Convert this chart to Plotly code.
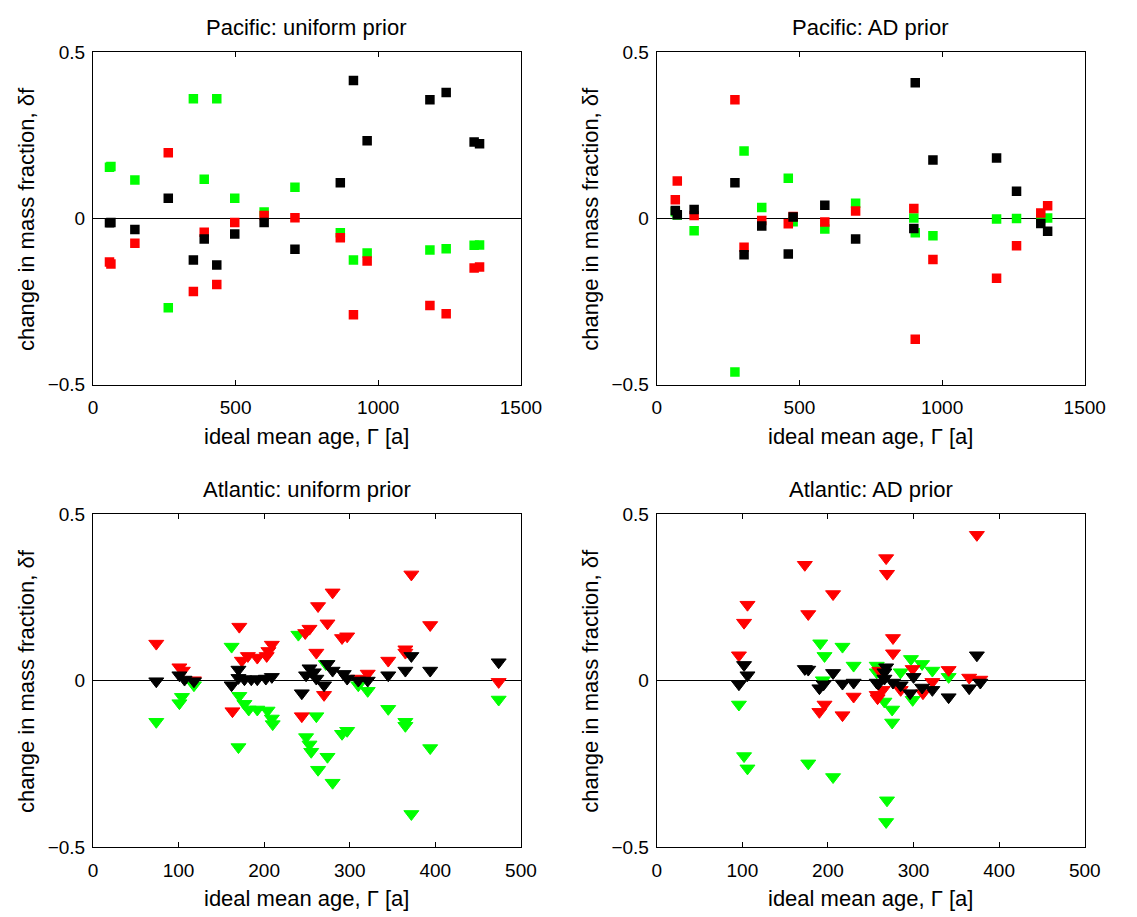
import plotly.graph_objects as go

# ---------------- data ----------------
# Pacific, uniform prior (squares)
pac_uni_x = [58, 63, 147, 264, 352, 390, 434, 497, 600, 708, 867, 913, 961, 1181, 1238, 1336, 1355]
pac_uni_green = [0.154, 0.156, 0.116, -0.269, 0.360, 0.118, 0.360, 0.061, 0.019, 0.094, -0.043, -0.125, -0.104, -0.095, -0.091, -0.081, -0.080]
pac_uni_red = [-0.131, -0.137, -0.075, 0.198, -0.220, -0.042, -0.199, -0.012, 0.009, 0.002, -0.058, -0.290, -0.128, -0.262, -0.287, -0.149, -0.146]
pac_uni_black = [-0.013, -0.012, -0.033, 0.061, -0.125, -0.062, -0.140, -0.047, -0.012, -0.093, 0.107, 0.415, 0.234, 0.357, 0.379, 0.230, 0.225]

# Pacific, AD prior (squares)
pac_ad_x = [65, 72, 131, 274, 306, 368, 461, 478, 589, 697, 901, 906, 968, 1191, 1261, 1346, 1370]
pac_ad_green = [0.020, 0.010, -0.037, -0.462, 0.203, 0.033, 0.121, -0.010, -0.032, 0.046, 0.001, -0.043, -0.052, -0.002, 0.000, 0.000, 0.001]
pac_ad_red = [0.056, 0.113, 0.009, 0.357, -0.087, -0.006, -0.016, 0.006, -0.011, 0.022, 0.030, -0.364, -0.124, -0.180, -0.082, 0.016, 0.038]
pac_ad_black = [0.024, 0.011, 0.027, 0.107, -0.109, -0.023, -0.107, 0.004, 0.040, -0.062, -0.030, 0.408, 0.176, 0.182, 0.082, -0.015, -0.039]

# Atlantic, uniform prior (triangles)
atl_uni_green_x = [74, 101, 104, 118, 162, 170, 171, 177, 182, 192, 204, 209, 210, 240, 249, 253, 255, 261, 263, 272, 274, 280, 291, 297, 310, 321, 345, 365, 365, 372, 394, 474]
atl_uni_green_y = [-0.124, -0.068, -0.049, -0.014, 0.102, -0.200, -0.046, -0.070, -0.087, -0.087, -0.090, -0.114, -0.131, 0.138, -0.170, -0.192, -0.214, -0.107, -0.268, 0.050, -0.229, -0.307, -0.160, -0.151, -0.014, -0.031, -0.085, -0.124, -0.136, -0.401, -0.203, -0.057]
atl_uni_red_x = [74, 101, 105, 118, 163, 171, 174, 181, 192, 203, 205, 209, 244, 248, 253, 261, 263, 270, 274, 280, 291, 297, 310, 321, 345, 365, 365, 372, 394, 474]
atl_uni_red_y = [0.111, 0.040, 0.030, 0.001, -0.092, 0.162, 0.060, 0.074, 0.069, 0.074, 0.089, 0.108, -0.107, 0.143, 0.156, 0.084, 0.224, -0.043, 0.172, 0.265, 0.128, 0.133, 0.006, 0.021, 0.060, 0.094, 0.084, 0.319, 0.167, -0.004]
atl_uni_black_x = [74, 101, 107, 118, 162, 170, 170, 177, 185, 192, 202, 209, 244, 249, 253, 258, 261, 270, 274, 280, 293, 297, 310, 321, 345, 365, 372, 394, 474]
atl_uni_black_y = [-0.002, 0.016, 0.003, -0.002, -0.014, 0.033, 0.008, 0.004, 0.004, 0.004, 0.006, 0.011, -0.038, 0.016, 0.037, 0.025, 0.006, -0.014, 0.050, 0.030, 0.020, 0.006, 0.000, 0.000, 0.016, 0.030, 0.074, 0.030, 0.055]

# Atlantic, AD prior (triangles)
atl_ad_green_x = [96, 102, 106, 177, 191, 194, 196, 206, 217, 230, 257, 257, 266, 268, 269, 275, 275, 285, 297, 299, 310, 322, 341]
atl_ad_green_y = [-0.072, -0.227, -0.264, -0.249, 0.112, 0.001, 0.074, -0.290, 0.102, 0.045, 0.045, 0.025, -0.063, -0.425, -0.360, -0.087, -0.126, 0.025, 0.065, -0.058, 0.050, 0.030, 0.011]
atl_ad_red_x = [96, 102, 106, 173, 177, 190, 196, 206, 217, 230, 257, 258, 260, 264, 268, 269, 276, 276, 285, 299, 311, 322, 341, 365, 374, 378]
atl_ad_red_y = [0.076, 0.174, 0.228, 0.348, 0.200, -0.094, -0.072, 0.260, -0.104, -0.048, -0.043, -0.053, 0.030, -0.028, 0.368, 0.321, 0.128, 0.082, -0.028, 0.035, -0.038, -0.004, 0.032, 0.009, 0.438, 0.003]
atl_ad_black_x = [96, 102, 106, 173, 177, 190, 195, 206, 217, 230, 257, 259, 266, 266, 268, 276, 285, 296, 300, 310, 322, 341, 365, 374, 378]
atl_ad_black_y = [-0.011, 0.047, 0.016, 0.035, 0.033, -0.023, -0.011, 0.023, -0.009, -0.006, -0.006, -0.009, 0.006, 0.025, 0.040, -0.006, -0.014, -0.038, 0.011, -0.021, -0.028, -0.050, -0.023, 0.076, -0.006]

titles = ["Pacific: uniform prior", "Pacific: AD prior", "Atlantic: uniform prior", "Atlantic: AD prior"]
xlabel = "ideal mean age, \u0393 [a]"
ylabel = "change in mass fraction, \u03b4f"

# ---------------- figure ----------------
W, H = 1137, 917
FONT = "Liberation Sans, Arial, Helvetica, sans-serif"
GREEN, RED, BLACK = "rgb(0,255,0)", "rgb(255,0,0)", "rgb(0,0,0)"

fig = go.Figure()

def add(xs, ys, color, xa, ya, symbol, size, lw):
    fig.add_trace(go.Scatter(
        x=xs, y=ys, mode="markers", xaxis=xa, yaxis=ya, showlegend=False,
        marker=dict(symbol=symbol, size=size, color=color,
                    line=dict(width=lw, color=color)),
        hoverinfo="x+y"))

SQ, TRI = 9.5, 13
add(pac_uni_x, pac_uni_green, GREEN, "x", "y", "square", SQ, 0)
add(pac_uni_x, pac_uni_red, RED, "x", "y", "square", SQ, 0)
add(pac_uni_x, pac_uni_black, BLACK, "x", "y", "square", SQ, 0)

add(pac_ad_x, pac_ad_green, GREEN, "x2", "y2", "square", SQ, 0)
add(pac_ad_x, pac_ad_red, RED, "x2", "y2", "square", SQ, 0)
add(pac_ad_x, pac_ad_black, BLACK, "x2", "y2", "square", SQ, 0)

add(atl_uni_green_x, atl_uni_green_y, GREEN, "x3", "y3", "triangle-down", TRI, 1)
add(atl_uni_red_x, atl_uni_red_y, RED, "x3", "y3", "triangle-down", TRI, 1)
add(atl_uni_black_x, atl_uni_black_y, BLACK, "x3", "y3", "triangle-down", TRI, 1)

add(atl_ad_green_x, atl_ad_green_y, GREEN, "x4", "y4", "triangle-down", TRI, 1)
add(atl_ad_red_x, atl_ad_red_y, RED, "x4", "y4", "triangle-down", TRI, 1)
add(atl_ad_black_x, atl_ad_black_y, BLACK, "x4", "y4", "triangle-down", TRI, 1)

# panel geometry in pixels
LEFT = (90, 528)
RIGHT = (667, 1105)
TOP = (43.3, 383.3)
BOT = (516, 856.5)

def xdom(p):
    return [p[0] / W, p[1] / W]

def ydom(p):
    return [(H - p[1]) / H, (H - p[0]) / H]

tickfont = dict(family=FONT, size=19, color="black")
common_axis = dict(showline=True, linecolor="black", linewidth=1, mirror="ticks",
                   ticks="inside", ticklen=5, tickwidth=1, tickcolor="black",
                   showgrid=False, tickfont=tickfont, fixedrange=True)

layout = dict(
    width=W, height=H, margin=dict(l=0, r=0, t=0, b=0),
    paper_bgcolor="white", plot_bgcolor="white",
    font=dict(family=FONT, color="black"),
)

panel_defs = [
    ("", "", LEFT, TOP, [0, 1500], 500),
    ("2", "2", RIGHT, TOP, [0, 1500], 500),
    ("3", "3", LEFT, BOT, [0, 500], 100),
    ("4", "4", RIGHT, BOT, [0, 500], 100),
]
annotations = []
for i, (xs, ys, xp, yp, xr, dt) in enumerate(panel_defs):
    layout["xaxis" + xs] = dict(common_axis, domain=xdom(xp), range=xr, dtick=dt, tick0=0,
                                anchor="y" + ys, zeroline=False, ticklabelstandoff=6)
    layout["yaxis" + ys] = dict(common_axis, domain=ydom(yp), range=[-0.5, 0.5],
                                tickvals=[-0.5, 0, 0.5], anchor="x" + xs,
                                zeroline=True, zerolinecolor="black", zerolinewidth=1,
                                ticklabelstandoff=3)
    cx = (xp[0] + xp[1]) / 2
    annotations.append(dict(text=titles[i], x=cx / W, y=(H - (yp[0] - 25)) / H,
                            xref="paper", yref="paper", xanchor="center", yanchor="middle",
                            showarrow=False, font=dict(family=FONT, size=22, color="black")))
    annotations.append(dict(text=xlabel, x=cx / W, y=(H - (yp[1] + 53)) / H,
                            xref="paper", yref="paper", xanchor="center", yanchor="middle",
                            showarrow=False, font=dict(family=FONT, size=22, color="black")))
    annotations.append(dict(text=ylabel, x=(xp[0] - 68) / W, y=(H - (yp[0] + yp[1]) / 2) / H,
                            xref="paper", yref="paper", xanchor="center", yanchor="middle",
                            textangle=-90, showarrow=False,
                            font=dict(family=FONT, size=22, color="black")))

layout["annotations"] = annotations
fig.update_layout(**layout)

fig.write_html("out.html")
